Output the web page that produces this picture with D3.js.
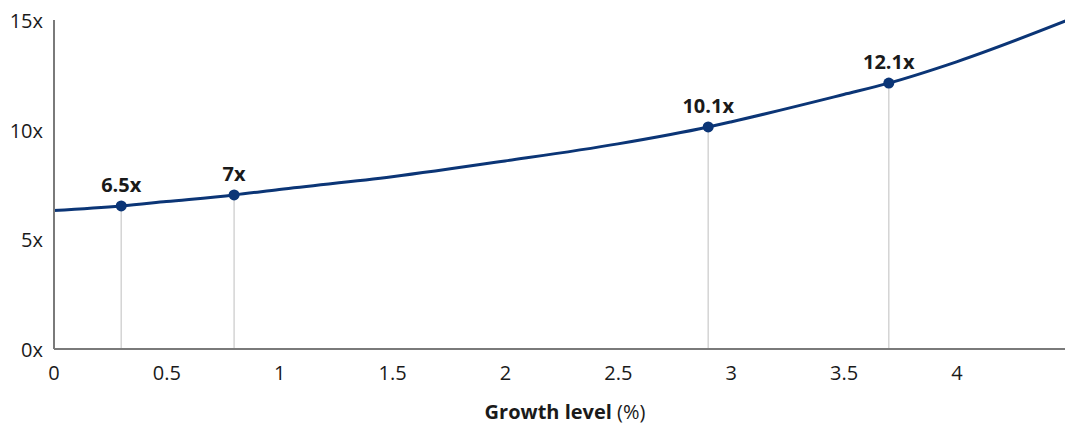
<!DOCTYPE html>
<html>
<head>
<meta charset="utf-8">
<script src="https://cdn.jsdelivr.net/npm/d3@7"></script>
<style>
  html, body { margin: 0; padding: 0; background: #fff; }
  svg { display: block; font-family: "Open Sans", "Noto Sans", sans-serif; }
</style>
</head>
<body>
<svg id="chart" width="1065" height="425"></svg>
<script>
// Valuation multiple as a function of the growth level
const growth   = [0, 0.3, 0.5, 0.8, 1, 1.5, 2, 2.5, 2.9, 3, 3.5, 3.7, 4, 4.5];
const multiple = [6.29, 6.5, 6.7, 7.0, 7.25, 7.83, 8.55, 9.33, 10.1, 10.33, 11.58, 12.1, 13.07, 15.0];

// Highlighted scenarios
const markGrowth   = [0.3, 0.8, 2.9, 3.7];
const markMultiple = [6.5, 7, 10.1, 12.1];
const markLabels   = ["6.5x", "7x", "10.1x", "12.1x"];

// Axis ticks
const xTicks = [0, 0.5, 1, 1.5, 2, 2.5, 3, 3.5, 4];
const xTickLabels = ["0", "0.5", "1", "1.5", "2", "2.5", "3", "3.5", "4"];
const yTicks = [0, 5, 10, 15];
const yTickLabels = ["0x", "5x", "10x", "15x"];

const svg = d3.select("#chart");
const navy = "#0b3576";
const axisGrey = "#7a7a7a";
const ink = "#1a1a1a";
const fontStack = "Open Sans, Noto Sans, sans-serif";

const x = d3.scaleLinear().domain([0, 4.5]).range([53.5, 1069.4]);
const y = d3.scaleLinear().domain([0, 15]).range([348.5, 19.5]);

const plot = svg.append("g");

// Drop lines from each highlighted point to the axis
plot.selectAll("line.drop")
  .data(markGrowth)
  .join("line")
  .attr("class", "drop")
  .attr("x1", d => x(d)).attr("x2", d => x(d))
  .attr("y1", (d, i) => y(markMultiple[i]))
  .attr("y2", y(0))
  .attr("stroke", "#d4d4d4")
  .attr("stroke-width", 1.5);

// Axes without tick marks
const yAxis = d3.axisLeft(y).tickValues(yTicks)
  .tickFormat((d, i) => yTickLabels[i]).tickSize(0).tickPadding(10.5);
const gy = svg.append("g").attr("transform", `translate(${x(0)},0)`).call(yAxis);
gy.select(".domain").attr("stroke", axisGrey).attr("stroke-width", 2);
gy.selectAll("text").attr("font-size", 20).attr("fill", ink)
  .attr("font-family", fontStack).attr("dy", "0.4em");

const xAxis = d3.axisBottom(x).tickValues(xTicks)
  .tickFormat((d, i) => xTickLabels[i]).tickSize(0).tickPadding(17);
const gx = svg.append("g").attr("transform", `translate(0,${y(0)})`).call(xAxis);
gx.select(".domain").attr("stroke", axisGrey).attr("stroke-width", 2);
gx.selectAll("text").attr("font-size", 20).attr("fill", ink)
  .attr("font-family", fontStack);

// Curve
const line = d3.line()
  .x((d, i) => x(growth[i]))
  .y(d => y(d))
  .curve(d3.curveMonotoneX);

plot.append("path")
  .datum(multiple)
  .attr("d", line)
  .attr("fill", "none")
  .attr("stroke", navy)
  .attr("stroke-width", 3);

// Highlighted points
plot.selectAll("circle.pt")
  .data(markGrowth)
  .join("circle")
  .attr("class", "pt")
  .attr("cx", d => x(d))
  .attr("cy", (d, i) => y(markMultiple[i]))
  .attr("r", 5.5)
  .attr("fill", navy);

plot.selectAll("text.lbl")
  .data(markGrowth)
  .join("text")
  .attr("class", "lbl")
  .attr("x", d => x(d))
  .attr("y", (d, i) => y(markMultiple[i]) - 14)
  .attr("text-anchor", "middle")
  .attr("font-size", 20)
  .attr("font-weight", 700)
  .attr("fill", ink)
  .text((d, i) => markLabels[i]);

// Axis title
const title = svg.append("text")
  .attr("x", 565)
  .attr("y", 419)
  .attr("text-anchor", "middle")
  .attr("font-size", 20)
  .attr("fill", ink);
title.append("tspan").attr("font-weight", 700).text("Growth level ");
title.append("tspan").text("(%)");
</script>
</body>
</html>
